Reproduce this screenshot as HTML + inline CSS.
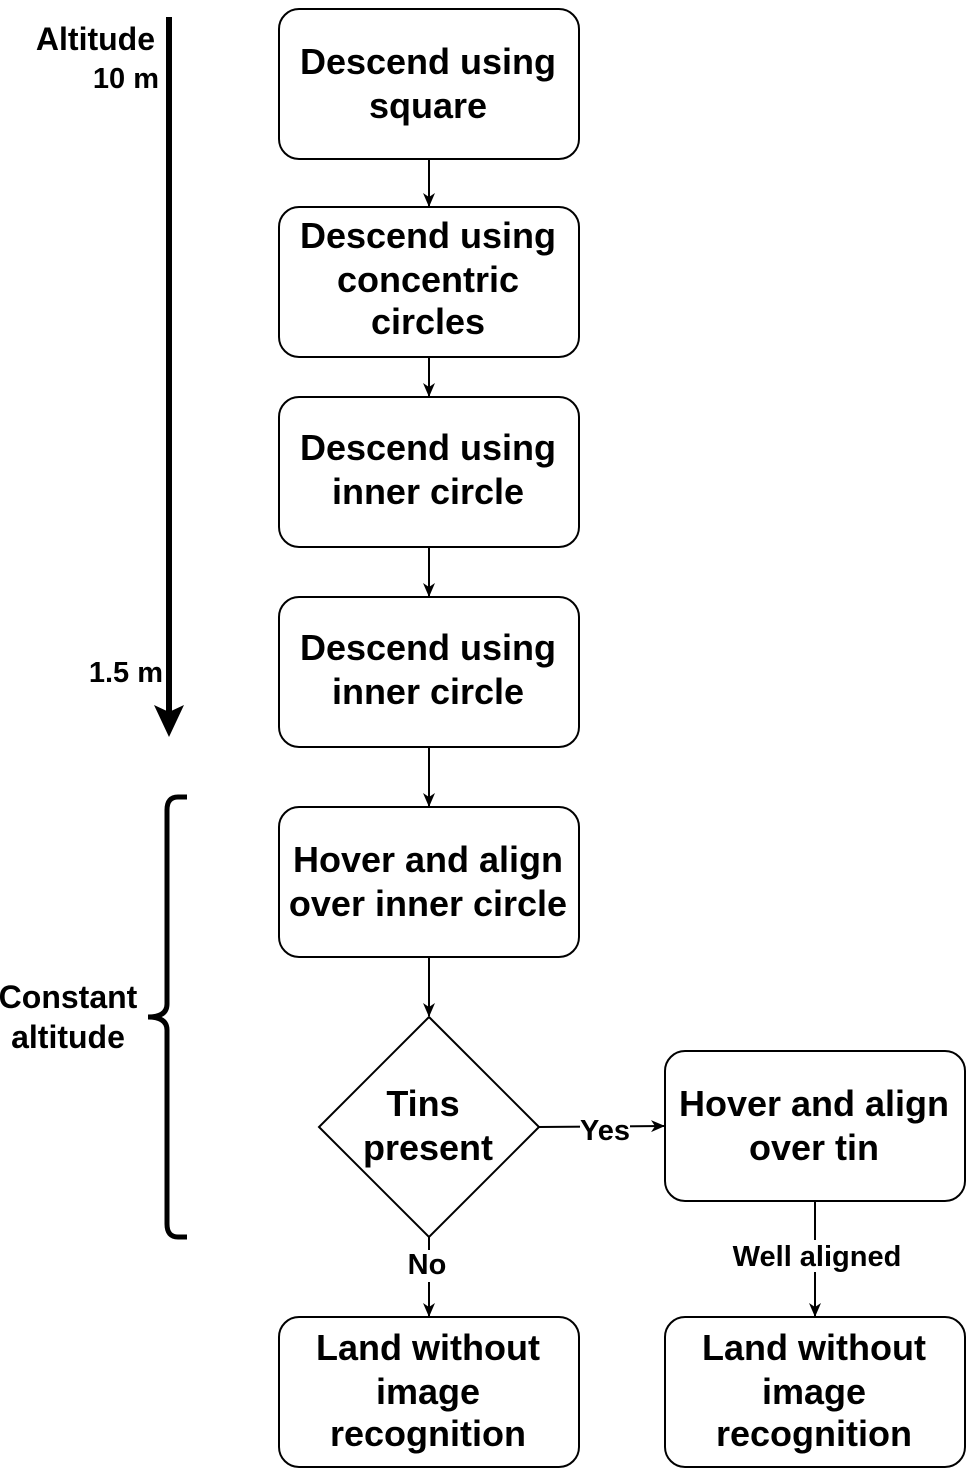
<!DOCTYPE html>
<html><head><meta charset="utf-8"><style>
html,body{margin:0;padding:0;background:#fff;}
svg text{font-family:"Liberation Sans",Arial,sans-serif;font-weight:bold;fill:#000;}
</style></head><body>
<svg width="966" height="1470" viewBox="0 0 966 1470" xmlns="http://www.w3.org/2000/svg">
<defs>
<marker id="a" markerWidth="14" markerHeight="14" refX="13" refY="7" orient="auto" markerUnits="userSpaceOnUse">
<path d="M0,1 L14,7 L0,13 L4,7 z" fill="#000"/></marker>
</defs>
<g fill="#fff" stroke="#000" stroke-width="2">
<rect x="279" y="9" width="300" height="150" rx="20"/>
<rect x="279" y="207" width="300" height="150" rx="20"/>
<rect x="279" y="397" width="300" height="150" rx="20"/>
<rect x="279" y="597" width="300" height="150" rx="20"/>
<rect x="279" y="807" width="300" height="150" rx="20"/>
<polygon points="429,1017 539,1127 429,1237 319,1127"/>
<rect x="665" y="1051" width="300" height="150" rx="20"/>
<rect x="279" y="1317" width="300" height="150" rx="20"/>
<rect x="665" y="1317" width="300" height="150" rx="20"/>
</g>
<g stroke="#000" stroke-width="2" fill="none">
<line x1="429" y1="159" x2="429" y2="206" marker-end="url(#a)"/>
<line x1="429" y1="357" x2="429" y2="396" marker-end="url(#a)"/>
<line x1="429" y1="547" x2="429" y2="596" marker-end="url(#a)"/>
<line x1="429" y1="747" x2="429" y2="806" marker-end="url(#a)"/>
<line x1="429" y1="957" x2="429" y2="1016" marker-end="url(#a)"/>
<line x1="539" y1="1127" x2="664" y2="1126" marker-end="url(#a)"/>
<line x1="429" y1="1237" x2="429" y2="1316" marker-end="url(#a)"/>
<line x1="815" y1="1201" x2="815" y2="1316" marker-end="url(#a)"/>
</g>
<line x1="169" y1="17" x2="169" y2="712" stroke="#000" stroke-width="6"/>
<polygon points="154,705 169,737 184,705 169,712" fill="#000"/>
<path d="M187,797 L178,797 Q167,797 167,810 L167,1004 Q167,1017 148,1017 Q167,1017 167,1030 L167,1224 Q167,1237 178,1237 L187,1237" fill="none" stroke="#000" stroke-width="5"/>
<g font-size="36" text-anchor="middle">
<text x="428" y="74">Descend using</text>
<text x="428" y="118">square</text>
<text x="428" y="248">Descend using</text>
<text x="428" y="292">concentric</text>
<text x="428" y="334">circles</text>
<text x="428" y="460">Descend using</text>
<text x="428" y="504">inner circle</text>
<text x="428" y="660">Descend using</text>
<text x="428" y="704">inner circle</text>
<text x="428" y="872">Hover and align</text>
<text x="428" y="916">over inner circle</text>
<text x="423" y="1116">Tins</text>
<text x="428" y="1160">present</text>
<text x="814" y="1116">Hover and align</text>
<text x="814" y="1160">over tin</text>
<text x="428" y="1360">Land without</text>
<text x="428" y="1404">image</text>
<text x="428" y="1446">recognition</text>
<text x="814" y="1360">Land without</text>
<text x="814" y="1404">image</text>
<text x="814" y="1446">recognition</text>
</g>
<g font-size="32">
<text x="155" y="50" text-anchor="end">Altitude</text>
<text x="68" y="1008" text-anchor="middle">Constant</text>
<text x="68" y="1048" text-anchor="middle">altitude</text>
</g>
<g font-size="29">
<text x="159" y="88" text-anchor="end">10 m</text>
<text x="163" y="682" text-anchor="end">1.5 m</text>
</g>
<rect x="580" y="1113" width="50" height="30" fill="#fff"/>
<rect x="405" y="1250" width="44" height="32" fill="#fff"/>
<rect x="728" y="1240" width="178" height="32" fill="#fff"/>
<g font-size="29" text-anchor="middle">
<text x="605" y="1140">Yes</text>
<text x="427" y="1274">No</text>
<text x="817" y="1266">Well aligned</text>
</g>
</svg>
</body></html>
